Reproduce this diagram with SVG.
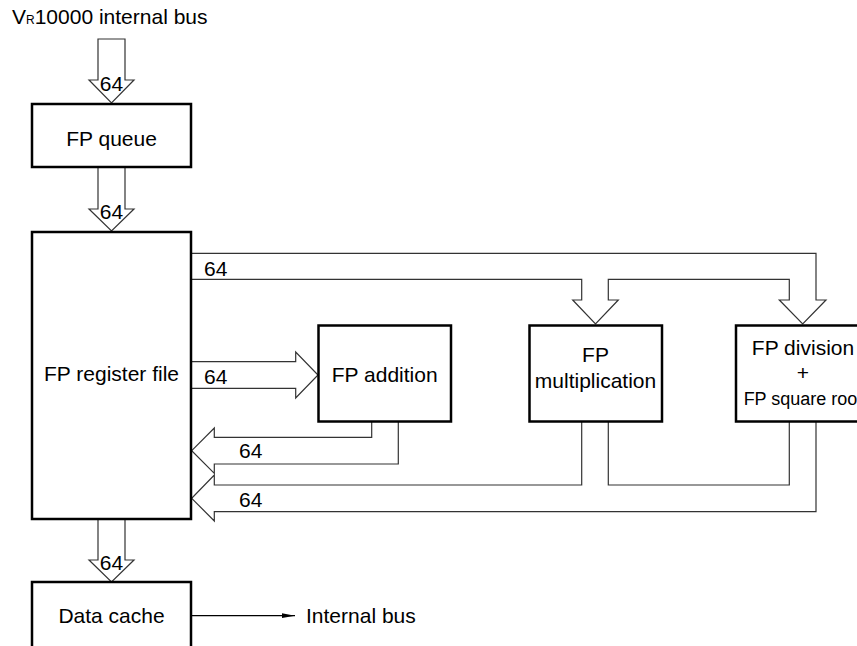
<svg xmlns="http://www.w3.org/2000/svg" width="857" height="646" viewBox="0 0 857 646">
<style>
  .box { fill: #fff; stroke: #000; stroke-width: 2.5; }
  .bus { fill: #fff; stroke: #333; stroke-width: 1.2; stroke-linejoin: miter; }
  .t { font-family: "Liberation Sans", Arial, sans-serif; font-size: 21px; fill: #000; }
  .c { text-anchor: middle; }
  .s { font-size: 18px; }
</style>
<defs>
  <marker id="ah" markerWidth="14" markerHeight="6" refX="13" refY="3" orient="auto" markerUnits="userSpaceOnUse">
    <path d="M0,0.6 L13,3 L0,5.4 z" fill="#000"/>
  </marker>
</defs>
<rect width="857" height="646" fill="#fff"/>

<text class="t" x="12" y="24">V<tspan style="font-size:12px">R</tspan>10000 internal bus</text>

<g id="connectors">
  <path class="bus" d="M98,39 H125 V80 H134 L111.5,103 L89,80 H98 Z"/>
  <path class="bus" d="M98,167 V209 H89 L111.5,231 L134,209 H125 V167"/>
  <path class="bus" d="M98,519 V560 H89 L111.5,582 L134,560 H125 V519"/>
  <path class="bus" d="M191,253.3 H816 V300 H826 L802.7,324 L779.3,300 H789.3 V279.3 H608.3 V300 H618.3 L595.5,324 L572.7,300 H581.7 V279.3 H191"/>
  <path class="bus" d="M191,361.7 H295.7 V352 L318,375 L295.7,398 V388.3 H191"/>
  <path class="bus" d="M371.7,421.7 V437.3 H214.3 V428 L191.7,450.7 L214.3,473.3 V464 H398.3 V421.7"/>
  <path class="bus" d="M581.7,421.7 V485 H214.3 V475 L191.7,498.3 L214.3,521 V511.7 H816 V421.7"/>
  <path class="bus" d="M608.3,421.7 V485 H789.3 V421.7"/>
  <line x1="192" y1="615.7" x2="295" y2="615.7" stroke="#000" stroke-width="1.2" marker-end="url(#ah)"/>
  <text class="t c" x="111.5" y="91">64</text>
  <text class="t c" x="111.5" y="219">64</text>
  <text class="t c" x="111.5" y="570">64</text>
  <text class="t" x="204" y="276">64</text>
  <text class="t" x="204" y="384">64</text>
  <text class="t" x="239" y="458">64</text>
  <text class="t" x="239" y="507">64</text>
  <text class="t" x="306" y="623">Internal bus</text>
</g>

<g id="fp-queue">
  <rect class="box" x="32" y="104" width="159" height="63"/>
  <text class="t c" x="111.5" y="146">FP queue</text>
</g>
<g id="fp-register-file">
  <rect class="box" x="32" y="232" width="159" height="287"/>
  <text class="t c" x="111.5" y="381">FP register file</text>
</g>
<g id="data-cache">
  <rect class="box" x="32" y="582" width="159" height="90"/>
  <text class="t c" x="111.5" y="623">Data cache</text>
</g>
<g id="fp-addition">
  <rect class="box" x="318.5" y="325.5" width="132.5" height="96"/>
  <text class="t c" x="384.7" y="382">FP addition</text>
</g>
<g id="fp-multiplication">
  <rect class="box" x="529.5" y="325.5" width="132.5" height="96"/>
  <text class="t c" x="595.5" y="362">FP</text>
  <text class="t c" x="595.5" y="388">multiplication</text>
</g>
<g id="fp-division">
  <rect class="box" x="736" y="325.5" width="133" height="96"/>
  <text class="t c" x="803" y="355">FP division</text>
  <text class="t c" x="803" y="380">+</text>
  <text class="t c s" x="803" y="405">FP square root</text>
</g>
</svg>
